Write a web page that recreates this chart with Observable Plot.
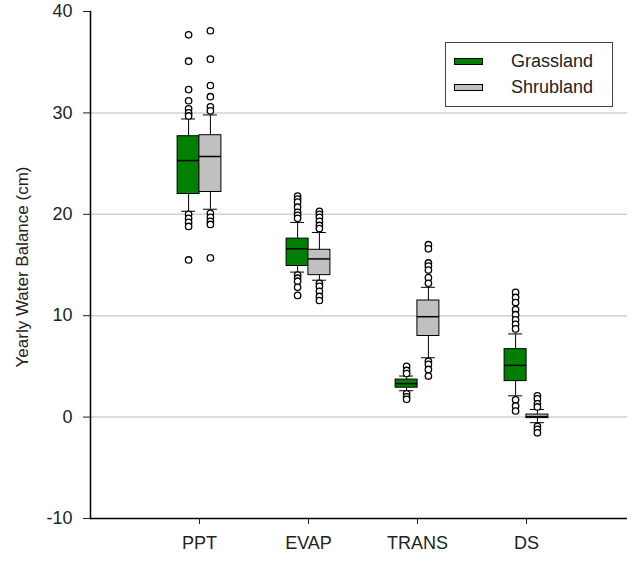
<!DOCTYPE html>
<html><head><meta charset="utf-8">
<script src="https://cdn.jsdelivr.net/npm/d3@7"></script>
<script src="https://cdn.jsdelivr.net/npm/@observablehq/plot@0.6"></script>
<style>
body{margin:0;background:#fff;}
#wrap{position:relative;width:635px;height:561px;font-family:"Liberation Sans",Arial,sans-serif;color:#222;}
#legend{position:absolute;left:445px;top:42px;width:168px;height:65px;border:1px solid #444;background:#fff;box-sizing:border-box;}
.sw{position:absolute;left:8px;width:29px;height:7px;border:1px solid #000;box-sizing:border-box;}
.lab{position:absolute;left:65px;font-size:18px;line-height:18px;white-space:nowrap;}
</style></head>
<body><div id="wrap"></div>
<script>
const categories = ["PPT","EVAP","TRANS","DS"];
const groups = ["Grassland","Shrubland"];
const groupColors = ["#008000","#c0c0c0"];
const grassWhiskerLow = [20.3, 14.3, 2.6, 2.1];
const grassQ1 = [22.0, 14.9, 2.9, 3.55];
const grassMedian = [25.3, 16.6, 3.3, 5.1];
const grassQ3 = [27.7, 17.6, 3.7, 6.7];
const grassWhiskerHigh = [29.4, 19.2, 4.05, 8.2];
const shrubWhiskerLow = [20.5, 13.5, 5.85, -0.55];
const shrubQ1 = [22.2, 14.0, 8.0, -0.1];
const shrubMedian = [25.7, 15.6, 9.9, 0.05];
const shrubQ3 = [27.8, 16.5, 11.5, 0.25];
const shrubWhiskerHigh = [29.8, 18.2, 12.8, 0.75];
const grassOutliers = [
  [37.7, 35.1, 32.3, 31.2, 30.4, 30.0, 29.7, 20.0, 19.6, 19.2, 18.8, 15.5],
  [21.8, 21.5, 21.2, 20.7, 20.2, 19.9, 19.6, 14.0, 13.7, 13.4, 12.8, 12.0],
  [5.0, 4.6, 4.3, 2.3, 2.0, 1.75],
  [12.3, 11.8, 11.3, 10.6, 10.1, 9.6, 9.15, 8.7, 1.7, 1.1, 0.6]
];
const shrubOutliers = [
  [38.1, 35.3, 32.7, 31.6, 30.6, 30.2, 20.1, 19.7, 19.3, 19.0, 15.7],
  [20.3, 20.0, 19.7, 19.3, 18.9, 18.6, 13.2, 12.9, 12.4, 11.9, 11.5],
  [17.0, 16.6, 15.2, 14.9, 14.5, 13.75, 13.2, 5.5, 5.2, 4.7, 4.05],
  [2.1, 1.8, 1.3, 1.0, -0.9, -1.2, -1.55]
];
const yTicks = [-10, 0, 10, 20, 30, 40];
const gridValues = [0, 10, 20, 30];
const yLabel = "Yearly Water Balance (cm)";

const summaries = [
  [grassWhiskerLow, grassQ1, grassMedian, grassQ3, grassWhiskerHigh, grassOutliers],
  [shrubWhiskerLow, shrubQ1, shrubMedian, shrubQ3, shrubWhiskerHigh, shrubOutliers]
];
const boxes = [], outliers = [];
groups.forEach((g, gi) => {
  const [lo, q1, md, q3, hi, out] = summaries[gi];
  categories.forEach((c, i) => {
    boxes.push({group: g, cat: c, lo: lo[i], q1: q1[i], med: md[i], q3: q3[i], hi: hi[i]});
    out[i].forEach(v => outliers.push({group: g, cat: c, v}));
  });
});

const marks = [
  Plot.ruleY(gridValues, {stroke: "#d0d0d0", strokeWidth: 1.5, insetRight: 8})
];
groups.forEach((g, gi) => {
  const dx = gi === 0 ? -10.9 : 10.9;
  const b = boxes.filter(d => d.group === g);
  const o = outliers.filter(d => d.group === g);
  marks.push(
    Plot.ruleX(b, {x: "cat", y1: "lo", y2: "hi", dx, stroke: "#000", strokeWidth: 1}),
    Plot.tickY(b, {x: "cat", y: "lo", dx, stroke: "#000", insetLeft: 4, insetRight: 4}),
    Plot.tickY(b, {x: "cat", y: "hi", dx, stroke: "#000", insetLeft: 4, insetRight: 4}),
    Plot.barY(b, {x: "cat", y1: "q1", y2: "q3", dx, fill: groupColors[gi], stroke: "#000", strokeWidth: 1}),
    Plot.tickY(b, {x: "cat", y: "med", dx, stroke: "#000", strokeWidth: 1.5}),
    Plot.dot(o, {x: "cat", y: "v", dx, r: 3.2, fill: "#fff", stroke: "#000", strokeWidth: 1.3})
  );
});
marks.push(
  Plot.frame({anchor: "left", stroke: "#000", strokeWidth: 1.5}),
  Plot.ruleY([-10], {stroke: "#000", strokeWidth: 1.5, insetRight: 8}),
  Plot.text([yLabel], {frameAnchor: "left", textAnchor: "middle", rotate: -90, dx: -68, dy: 2, fontSize: 17, fill: "#222"})
);

const chart = Plot.plot({
  width: 635, height: 561,
  marginLeft: 90, marginRight: 0, marginTop: 11, marginBottom: 43,
  style: {fontFamily: '"Liberation Sans", Arial, sans-serif', fontSize: "18px", color: "#222", background: "#fff"},
  x: {domain: categories, paddingInner: 0.8, paddingOuter: 0.9, label: null, tickSize: 6, tickPadding: 12},
  y: {domain: [-10, 40], ticks: yTicks, tickFormat: d => String(d), label: null, tickSize: 7, tickPadding: 11},
  marks
});
const wrap = document.getElementById("wrap");
wrap.appendChild(chart);
const legend = document.createElement("div");
legend.id = "legend";
groups.forEach((g, gi) => {
  const cy = gi === 0 ? 18 : 44;
  const sw = document.createElement("div");
  sw.className = "sw"; sw.style.background = groupColors[gi]; sw.style.top = (cy - 3) + "px";
  const lb = document.createElement("div");
  lb.className = "lab"; lb.textContent = g; lb.style.top = (cy - 9) + "px";
  legend.appendChild(sw); legend.appendChild(lb);
});
wrap.appendChild(legend);
</script></body></html>
